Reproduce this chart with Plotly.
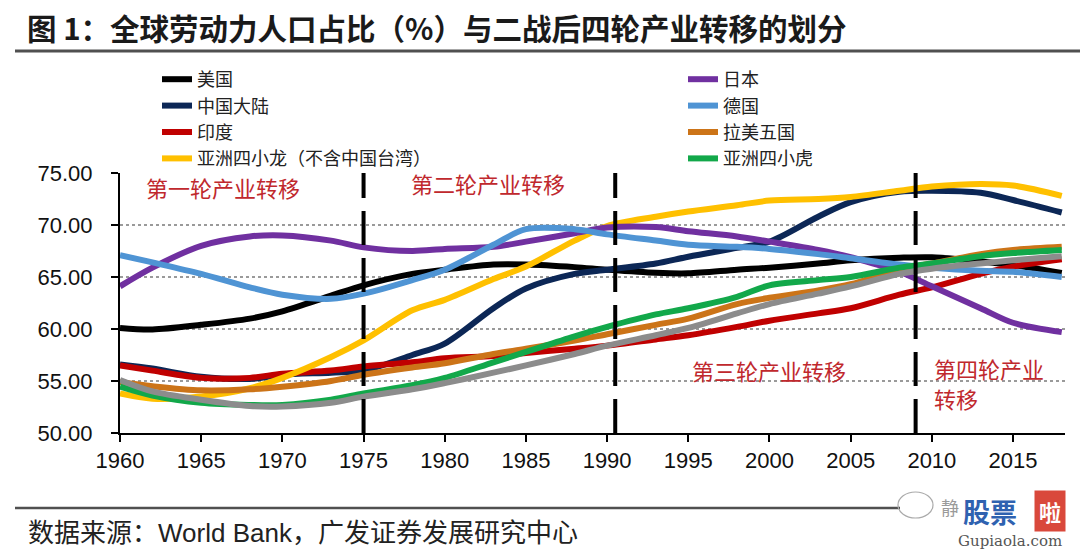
import plotly.graph_objects as go

years = [1960, 1962, 1965, 1968, 1970, 1973, 1975, 1978, 1980, 1983, 1985, 1988,
         1990, 1993, 1995, 1998, 2000, 2003, 2005, 2008, 2010, 2013, 2015, 2018]

usa = [60.1, 59.95, 60.4, 61.0, 61.7, 63.2, 64.2, 65.3, 65.7, 66.2, 66.2, 65.95,
       65.7, 65.4, 65.35, 65.7, 65.9, 66.3, 66.6, 66.85, 66.9, 66.5, 66.15, 65.4]
japan = [64.1, 65.9, 68.0, 68.9, 69.0, 68.5, 67.85, 67.5, 67.7, 67.9, 68.4, 69.2,
         69.75, 69.8, 69.4, 68.9, 68.4, 67.6, 66.9, 65.5, 64.1, 62.0, 60.6, 59.7]
china = [56.6, 56.2, 55.4, 55.2, 55.6, 55.8, 56.0, 57.5, 58.6, 62.0, 63.9, 65.3,
         65.7, 66.3, 66.95, 67.8, 68.4, 70.8, 72.2, 73.2, 73.3, 73.1, 72.4, 71.2]
germany = [67.1, 66.4, 65.3, 64.0, 63.3, 62.9, 63.4, 64.7, 65.7, 68.1, 69.6, 69.6,
           69.1, 68.5, 68.1, 67.9, 67.7, 67.2, 66.8, 66.2, 65.9, 65.6, 65.5, 65.0]
india = [56.5, 56.0, 55.3, 55.3, 55.7, 56.0, 56.4, 56.8, 57.2, 57.4, 57.7, 58.1,
         58.4, 59.0, 59.4, 60.2, 60.8, 61.5, 62.0, 63.3, 64.0, 65.3, 66.0, 66.7]
latam5 = [54.9, 54.5, 54.1, 54.2, 54.45, 55.0, 55.6, 56.3, 56.7, 57.6, 58.1, 58.9,
          59.5, 60.4, 61.0, 62.4, 63.0, 63.7, 64.3, 65.7, 66.3, 67.2, 67.6, 67.9]
dragons = [53.8, 53.3, 53.5, 54.3, 55.3, 57.3, 58.9, 61.8, 62.8, 64.8, 66.0, 68.5,
           69.9, 70.8, 71.3, 71.9, 72.35, 72.5, 72.7, 73.3, 73.7, 73.95, 73.8, 72.8]
tigers = [54.45, 53.6, 52.9, 52.7, 52.7, 53.2, 53.8, 54.6, 55.3, 56.8, 57.8, 59.3,
          60.2, 61.4, 62.0, 63.1, 64.2, 64.7, 65.0, 65.9, 66.3, 67.0, 67.3, 67.6]
grey_series = [55.1, 54.0, 53.2, 52.6, 52.55, 52.9, 53.5, 54.2, 54.8, 55.8, 56.5, 57.6,
               58.4, 59.4, 60.1, 61.5, 62.4, 63.4, 64.1, 65.3, 65.8, 66.3, 66.6, 67.0]

division_years = [1975, 1990.5, 2009]
x_ticks = [1960, 1965, 1970, 1975, 1980, 1985, 1990, 1995, 2000, 2005, 2010, 2015]
y_ticks = [50, 55, 60, 65, 70, 75]

CJK = "Noto Sans CJK SC"
LAT = "Arial, Liberation Sans, sans-serif"

series = [
    ("美国", usa, "#000000", "legend"),
    ("中国大陆", china, "#0c2756", "legend"),
    ("印度", india, "#c00000", "legend"),
    ("亚洲四小龙（不含中国台湾）", dragons, "#ffc000", "legend"),
    ("日本", japan, "#7030a0", "legend2"),
    ("德国", germany, "#4f94d4", "legend2"),
    ("拉美五国", latam5, "#cc7418", "legend2"),
    ("亚洲四小虎", tigers, "#12a84a", "legend2"),
]

fig = go.Figure()
for name, vals, col, lg in series:
    fig.add_trace(go.Scatter(x=years, y=vals, name=name, mode="lines",
                             line=dict(color=col, width=6, shape="spline", smoothing=0.9),
                             legend=lg))
fig.add_trace(go.Scatter(x=years, y=grey_series, name="其他", mode="lines", showlegend=False,
                         line=dict(color="#8c8c8c", width=6, shape="spline", smoothing=0.9)))

for xv in division_years:
    fig.add_shape(type="line", x0=xv, x1=xv, y0=50, y1=75, xref="x", yref="y",
                  line=dict(color="#000000", width=4, dash="34px,13px"))

red = "#c0282d"
for txt, xv, yv in [("第一轮产业转移", 1961.5, 73.65), ("第二轮产业转移", 1977.8, 74.05),
                    ("第三轮产业转移", 1995.1, 56.05), ("第四轮产业", 2010.0, 56.25),
                    ("转移", 2010.0, 53.4)]:
    fig.add_annotation(x=xv, y=yv, text=txt, xanchor="left", showarrow=False,
                       font=dict(family=CJK, size=22, color=red))

# page furniture, positioned in pixels and converted to paper coords
W, H = 1080, 554
ml, mr, mt, mb = 120, 15, 173, 121
pw, ph = W - ml - mr, H - mt - mb
px = lambda v: (v - ml) / pw
py = lambda v: (H - mb - v) / ph

def furn(x, y, text, font, xanchor="left", **kw):
    fig.add_annotation(x=px(x), y=py(y), xref="paper", yref="paper", text=text, showarrow=False,
                       xanchor=xanchor, yanchor="middle", font=font, **kw)

furn(25, 27, "<b>图 1：全球劳动力人口占比（%）与二战后四轮产业转移的划分</b>",
     dict(family=CJK, size=29.5, color="#1a1a1a"))
furn(26, 533, "数据来源：World Bank，广发证券发展研究中心",
     dict(family="Arial, " + CJK, size=26, color="#222222"))
furn(950, 507, "静", dict(family=CJK, size=18, color="#9a9a9a"), xanchor="center")
furn(990, 511, "<b>股票</b>", dict(family=CJK, size=27, color="#2f62b0"), xanchor="center")
furn(1050, 511, "<b>啦</b>", dict(family=CJK, size=22, color="#ffffff"), xanchor="center",
     bgcolor="#d9483b", borderpad=4)
furn(1010, 541, "Gupiaola.com", dict(family="DejaVu Serif, serif", size=15, color="#555555"),
     xanchor="center")

fig.add_shape(type="line", xref="paper", yref="paper", x0=px(15), x1=px(1080),
              y0=py(51), y1=py(51), line=dict(color="#505050", width=3))
fig.add_shape(type="line", xref="paper", yref="paper", x0=px(15), x1=px(900),
              y0=py(508), y1=py(508), line=dict(color="#505050", width=2.5))
fig.add_shape(type="circle", xref="paper", yref="paper", x0=px(898), x1=px(933),
              y0=py(492), y1=py(518), line=dict(color="#aaaaaa", width=1.2))

fig.update_layout(
    width=W, height=H,
    margin=dict(l=ml, r=mr, t=mt, b=mb, autoexpand=False),
    paper_bgcolor="white", plot_bgcolor="white",
    legend=dict(x=px(157), y=py(61), xanchor="left", yanchor="top",
                font=dict(family=CJK, size=18, color="#222222"), bgcolor="rgba(0,0,0,0)",
                tracegroupgap=0),
    legend2=dict(x=px(683), y=py(61), xanchor="left", yanchor="top",
                 font=dict(family=CJK, size=18, color="#222222"), bgcolor="rgba(0,0,0,0)",
                 tracegroupgap=0),
    xaxis=dict(range=[1960, 2018.2], tickvals=x_ticks, ticks="outside", ticklen=7, tickwidth=2,
               tickcolor="#000", showline=True, linecolor="#000", linewidth=2, showgrid=False,
               zeroline=False, tickfont=dict(family=LAT, size=22, color="#111")),
    yaxis=dict(range=[50, 75], tickvals=y_ticks, tickformat=".2f", ticks="outside", ticklen=7,
               tickwidth=2, tickcolor="#000", showline=True, linecolor="#000", linewidth=2,
               showgrid=True, gridcolor="#9a9a9a", gridwidth=1.5, griddash="dot", zeroline=False,
               tickfont=dict(family=LAT, size=22, color="#111"), ticklabelstandoff=14),
)

fig.write_html("out.html", config={"displayModeBar": False},
               post_script="document.body.style.margin='0px';")
